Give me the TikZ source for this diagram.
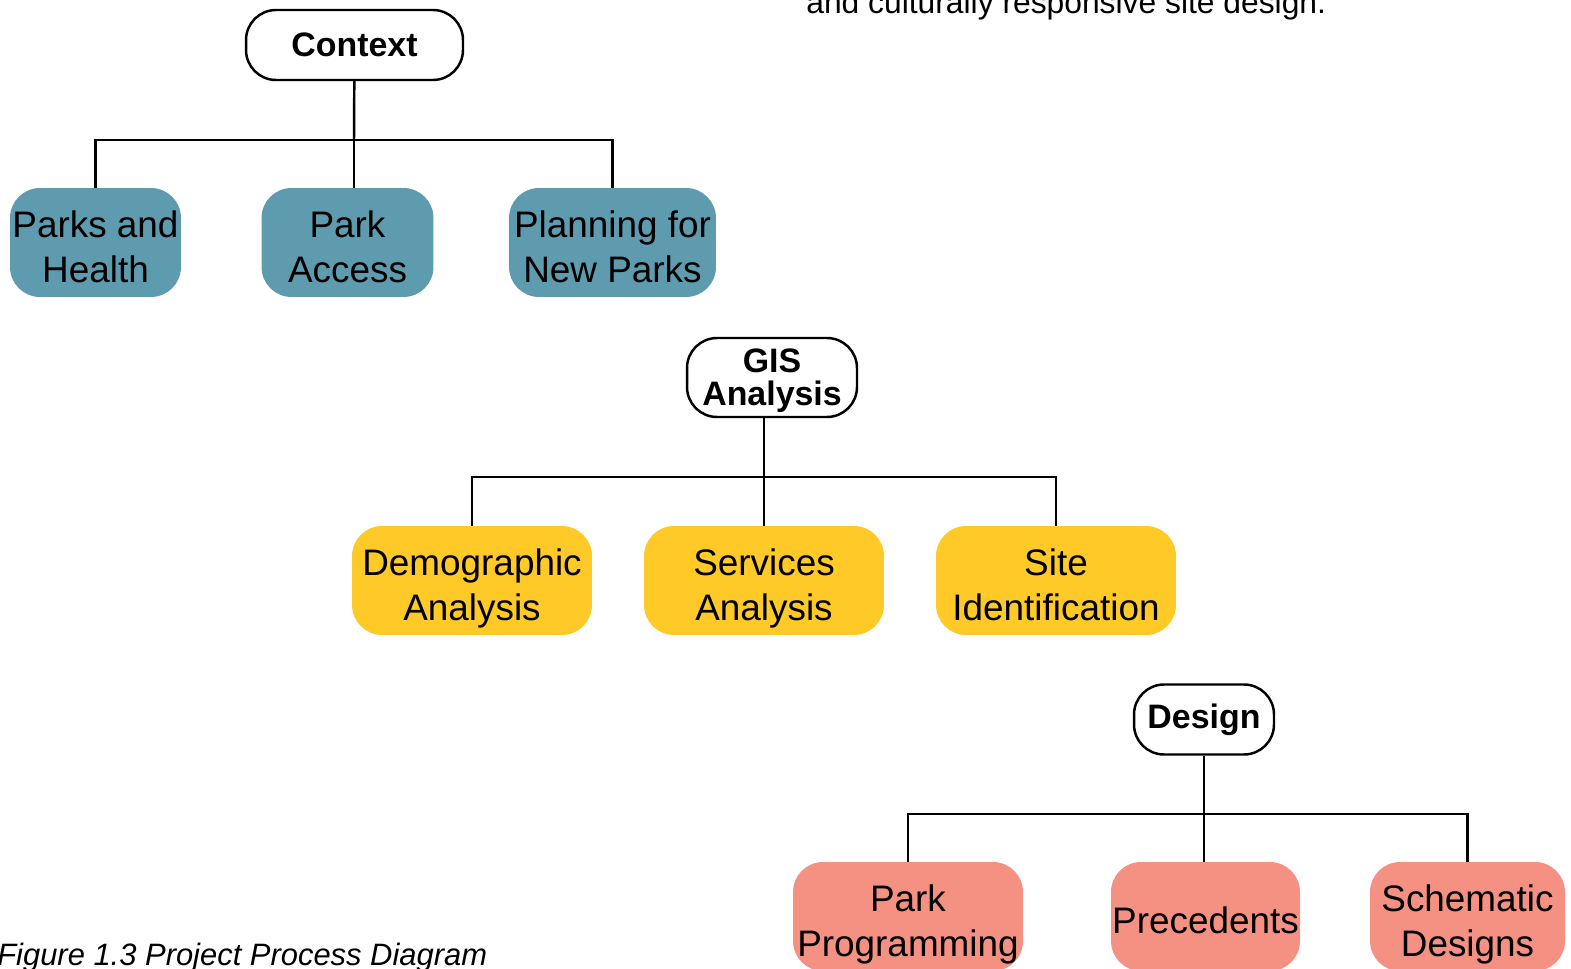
\documentclass[tikz,border=0pt]{standalone}
\usepackage{fontspec}
\setmainfont{Liberation Sans}
\usetikzlibrary{positioning}

\definecolor{parkteal}{RGB}{94,155,174}
\definecolor{gisyellow}{RGB}{255,202,40}
\definecolor{designpink}{RGB}{245,145,130}

\tikzstyle{head}=[draw,line width=1.4pt,fill=white,rounded corners=0.6cm,inner sep=0pt,align=center,font=\fontsize{19.3}{18.7}\selectfont\bfseries]
\tikzstyle{leaf}=[rounded corners=0.6cm,inner sep=0pt,minimum height=2.18cm,text height=50pt,text depth=4.9pt,align=center,font=\fontsize{21}{25.5}\selectfont]
\tikzstyle{link}=[draw,line width=1.4pt,-]

\begin{document}
\begin{tikzpicture}[x=0.02cm,y=-0.02cm]
		\useasboundingbox (0,0) rectangle (1571,969);
		\clip (0,0) rectangle (1571,969);
		% text cut off by the page
		\node[anchor=base west,inner sep=0pt,font=\fontsize{18.1}{21}\selectfont] (intro) at (806,14) {and culturally responsive site design.};
		\node[anchor=base west,inner sep=0pt,font=\fontsize{17.6}{21}\selectfont\itshape] (caption) at (-3,965) {Figure 1.3 Project Process Diagram};
		% Context
		\node[head,minimum width=4.34cm,minimum height=1.4cm] (ctx) at (354.5,45) {Context};
		\node[leaf,fill=parkteal,minimum width=3.42cm] (pah) at (95.5,242.5) {Parks and\\Health};
		\node[leaf,fill=parkteal,minimum width=3.44cm] (pa) at (347.5,242.5) {Park\\Access};
		\node[leaf,fill=parkteal,minimum width=4.14cm] (pnp) at (612.5,242.5) {Planning for\\New Parks};
		% GIS Analysis
		\node[head,minimum width=3.4cm,minimum height=1.58cm,text height=35.9pt,text depth=4.05pt] (gis) at (772,377.5) {GIS\\Analysis};
		\node[leaf,fill=gisyellow,minimum width=4.8cm] (demo) at (472,580.5) {Demographic\\Analysis};
		\node[leaf,fill=gisyellow,minimum width=4.8cm] (serv) at (764,580.5) {Services\\Analysis};
		\node[leaf,fill=gisyellow,minimum width=4.8cm] (site) at (1056,580.5) {Site\\Identification};
		% Design
		\node[head,minimum width=2.8cm,minimum height=1.4cm] (des) at (1204,719.5) {Design};
		\node[leaf,fill=designpink,minimum width=4.6cm] (prog) at (908,916.5) {Park\\Programming};
		\node[leaf,fill=designpink,minimum width=3.78cm,text height=25pt,text depth=5.4pt] (prec) at (1205.5,916.5) {Precedents};
		\node[leaf,fill=designpink,minimum width=3.9cm] (schem) at (1467.5,916.5) {Schematic\\Designs};
		% bars under each heading
		\coordinate (ctxbar) at (354,140);
		\coordinate (gisbar) at (764,477);
		\coordinate (desbar) at (1204,814);
		\path[link] (ctx) -- (ctxbar);
		\path[link] (gisbar |- gis.south) -- (gisbar);
		\path[link] (des) -- (desbar);
		% Connect headings with their boxes
		\foreach \source/ \dest in {ctxbar/pah, ctxbar/pnp, gisbar/demo, gisbar/site, desbar/prog, desbar/schem}
		\path[link] (\source) -| (\dest);
		\foreach \source/ \dest in {ctxbar/pa, gisbar/serv, desbar/prec}
		\path[link] (\source) -- (\source |- \dest.north);
\end{tikzpicture}
\end{document}
